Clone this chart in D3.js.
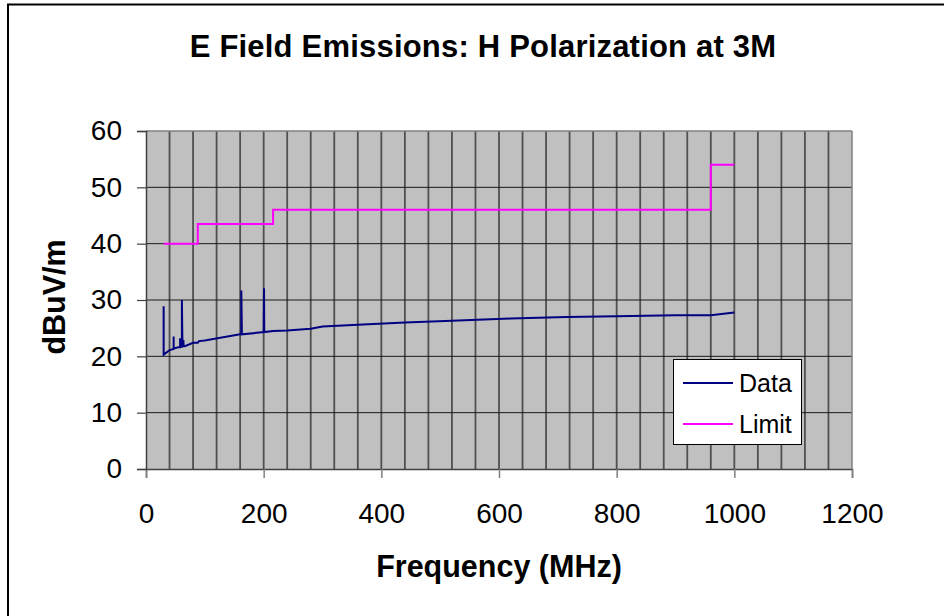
<!DOCTYPE html>
<html>
<head>
<meta charset="utf-8">
<script src="https://cdn.jsdelivr.net/npm/d3@7"></script>
<style>
  html, body { margin: 0; padding: 0; background: #fff; }
  svg { display: block; font-family: "Liberation Sans", Arial, sans-serif; }
</style>
</head>
<body>
<svg id="chart" width="944" height="616"></svg>
<script>
// ---- Data ----
const titleText = "E Field Emissions: H Polarization at 3M";
const xTitle = "Frequency (MHz)";
const yTitle = "dBuV/m";
const seriesNames = ["Data", "Limit"];
const xTicks = [0, 200, 400, 600, 800, 1000, 1200];
const yTicks = [0, 10, 20, 30, 40, 50, 60];
const xGrid = [40, 80, 120, 160, 200, 240, 280, 320, 360, 400, 440, 480, 520, 560, 600, 640, 680, 720, 760, 800, 840, 880, 920, 960, 1000, 1040, 1080, 1120, 1160];
const yGrid = [10, 20, 30, 40, 50];

const dataFreq = [30, 30, 40, 47, 47, 47, 55, 58, 58, 58, 61, 61, 62, 63.5, 64, 66, 80, 88, 90, 100, 160, 162, 162, 163, 200, 200.6, 201, 216, 240, 280, 300, 360, 440, 520, 620, 715, 800, 900, 960, 1000];
const dataLevel = [28.9, 20.3, 21.1, 21.3, 23.5, 21.4, 21.6, 21.6, 23.2, 21.7, 21.7, 30.0, 21.8, 22.9, 21.8, 21.8, 22.4, 22.4, 22.7, 22.8, 23.9, 23.9, 31.7, 23.9, 24.3, 32.1, 24.3, 24.5, 24.6, 24.9, 25.3, 25.6, 26.0, 26.3, 26.7, 27.0, 27.1, 27.3, 27.3, 27.8];

const limitFreq = [30, 88, 88, 216, 216, 960, 960, 1000];
const limitLevel = [40, 40, 43.5, 43.5, 46, 46, 54, 54];

// ---- Layout ----
const svg = d3.select("#chart");
const x = d3.scaleLinear().domain([0, 1200]).range([146, 852]);
const y = d3.scaleLinear().domain([0, 60]).range([469, 131]);
const font = '"Liberation Sans", Arial, sans-serif';

// outer frame (left and top edges visible)
svg.append("line").attr("x1", 8).attr("x2", 8).attr("y1", 4).attr("y2", 616)
  .attr("stroke", "#000").attr("stroke-width", 2);
svg.append("line").attr("x1", 7).attr("x2", 944).attr("y1", 4.5).attr("y2", 4.5)
  .attr("stroke", "#000").attr("stroke-width", 2);

// plot background
svg.append("rect")
  .attr("x", x(0)).attr("y", y(60))
  .attr("width", x(1200) - x(0)).attr("height", y(0) - y(60))
  .attr("fill", "#C0C0C0");

// vertical gridlines
svg.append("g").selectAll("line").data(xGrid).join("line")
  .attr("x1", d => x(d)).attr("x2", d => x(d))
  .attr("y1", y(60)).attr("y2", y(0))
  .attr("stroke", "#505050").attr("stroke-width", 1.8);

// horizontal gridlines
svg.append("g").selectAll("line").data(yGrid).join("line")
  .attr("x1", x(0)).attr("x2", x(1200))
  .attr("y1", d => y(d)).attr("y2", d => y(d))
  .attr("stroke", "#1a1a1a").attr("stroke-width", 1);

// plot border (top/right gray)
svg.append("line").attr("x1", x(0)).attr("x2", x(1200)).attr("y1", y(60)).attr("y2", y(60))
  .attr("stroke", "#808080").attr("stroke-width", 1.5);
svg.append("line").attr("x1", x(1200)).attr("x2", x(1200)).attr("y1", y(60)).attr("y2", y(0))
  .attr("stroke", "#808080").attr("stroke-width", 1.5);

// axes
const xAxis = d3.axisBottom(x).tickValues(xTicks).tickSize(9).tickPadding(25).tickFormat(d3.format("d"));
const gx = svg.append("g").attr("transform", `translate(0,${y(0)})`).call(xAxis);
gx.select(".domain").attr("stroke", "#404040").attr("stroke-width", 1.5);
gx.selectAll(".tick line").attr("stroke", "#808080").attr("stroke-width", 1.5);
gx.selectAll(".tick text").attr("font-family", font).attr("font-size", 28).attr("fill", "#000");

const yAxis = d3.axisLeft(y).tickValues(yTicks).tickSize(9).tickPadding(15).tickFormat(d3.format("d"));
const gy = svg.append("g").attr("transform", `translate(${x(0)},0)`).call(yAxis);
gy.select(".domain").attr("stroke", "#404040").attr("stroke-width", 1.5);
gy.selectAll(".tick line").attr("stroke", "#404040").attr("stroke-width", 1.2);
gy.selectAll(".tick text").attr("font-family", font).attr("font-size", 28).attr("fill", "#000");

// series
const line = d3.line().x(d => x(d[0])).y(d => y(d[1]));
const limitPts = limitFreq.map((f, i) => [f, limitLevel[i]]);
const dataPts = dataFreq.map((f, i) => [f, dataLevel[i]]);

svg.append("path").datum(limitPts).attr("d", line)
  .attr("fill", "none").attr("stroke", "#FF00FF").attr("stroke-width", 2);
svg.append("path").datum(dataPts).attr("d", line)
  .attr("fill", "none").attr("stroke", "#000080").attr("stroke-width", 2)
  .attr("stroke-linejoin", "miter");

// title
svg.append("text").attr("x", 483).attr("y", 57)
  .attr("text-anchor", "middle").attr("font-family", font)
  .attr("font-weight", "bold").attr("font-size", 31).attr("letter-spacing", 0.2)
  .text(titleText);

// axis titles
svg.append("text").attr("x", 499).attr("y", 577)
  .attr("text-anchor", "middle").attr("font-family", font)
  .attr("font-weight", "bold").attr("font-size", 30.5)
  .text(xTitle);
svg.append("text").attr("transform", `translate(65,${(y(0) + y(60)) / 2 - 3}) rotate(-90)`)
  .attr("text-anchor", "middle").attr("font-family", font)
  .attr("font-weight", "bold").attr("font-size", 30.5)
  .text(yTitle);

// legend
const lg = svg.append("g");
lg.append("rect").attr("x", 673.5).attr("y", 359.5).attr("width", 128).attr("height", 85)
  .attr("fill", "#fff").attr("stroke", "#000").attr("stroke-width", 1);
const legColors = ["#000080", "#FF00FF"];
const legY = [383, 424];
seriesNames.forEach((name, i) => {
  lg.append("line").attr("x1", 683).attr("x2", 733).attr("y1", legY[i]).attr("y2", legY[i])
    .attr("stroke", legColors[i]).attr("stroke-width", 2);
  lg.append("text").attr("x", 739).attr("y", legY[i] + 9)
    .attr("font-family", font).attr("font-size", 25).attr("fill", "#000")
    .text(name);
});
</script>
</body>
</html>
